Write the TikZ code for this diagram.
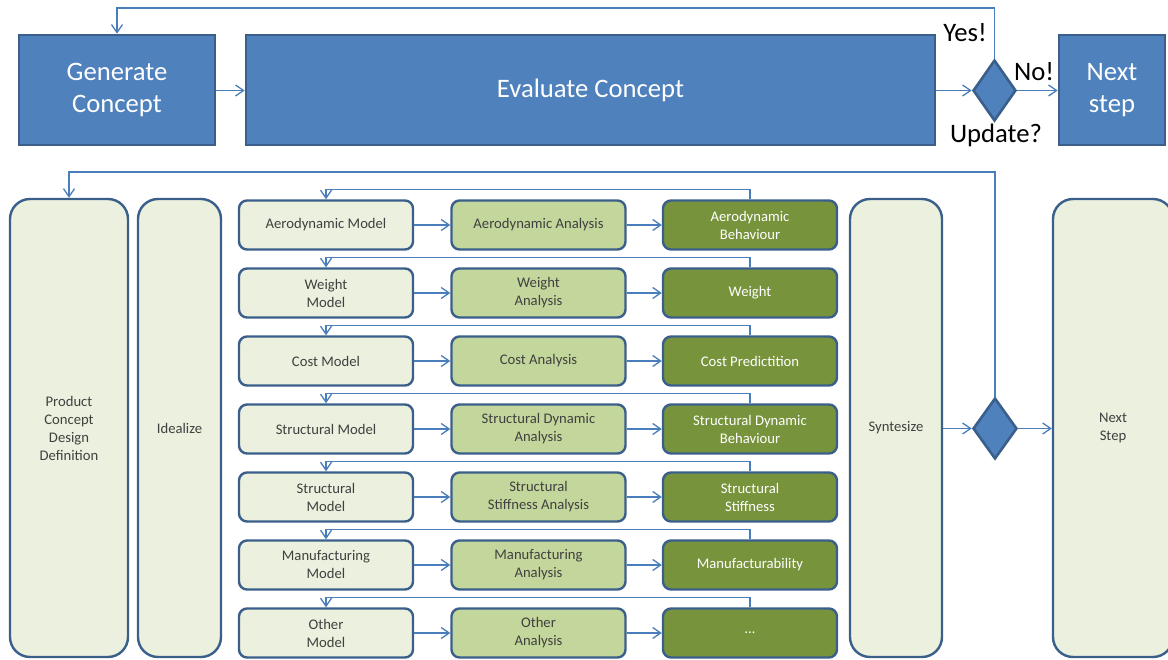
\documentclass[tikz,border=0pt]{standalone}
\usepackage{fontspec}
\setmainfont{Carlito}
\usetikzlibrary{arrows.meta,shapes.geometric}

\definecolor{edgeblue}{HTML}{3A5F8B}
\definecolor{fillblue}{HTML}{4F81BD}
\definecolor{linkblue}{HTML}{4A7EBB}
\definecolor{paleg}{HTML}{EBF1DE}
\definecolor{midg}{HTML}{C3D69B}
\definecolor{darkg}{HTML}{77933C}
\definecolor{txtgray}{HTML}{404040}

\tikzset{
  bigblue/.style={draw=edgeblue, line width=2.6pt, fill=fillblue, text=white,
    align=center, inner sep=0pt, font=\fontsize{26.67}{32.5}\selectfont},
  decide/.style={diamond, draw=edgeblue, line width=2.6pt, fill=fillblue, inner sep=0pt},
  lane/.style={draw=edgeblue, line width=2.4pt, rounded corners=20pt, fill=paleg,
    text=txtgray, align=center, inner sep=0pt, minimum height=458pt,
    font=\fontsize{14.67}{18}\selectfont},
  cell/.style={draw=edgeblue, line width=2.4pt, rounded corners=8pt, align=center,
    inner sep=0pt, minimum width=174pt, minimum height=49pt,
    font=\fontsize{14.67}{18}\selectfont},
  modelbox/.style={cell, fill=paleg, text=txtgray},
  analysisbox/.style={cell, fill=midg, text=txtgray},
  resultbox/.style={cell, fill=darkg, text=white},
  arr/.style={draw=linkblue, line width=1.3pt, -{Straight Barb[length=8pt,width=11pt]}},
  tag/.style={text=black, inner sep=0pt, font=\fontsize{26.67}{32.5}\selectfont}
}

\begin{document}
\begin{tikzpicture}[x=1pt, y=-1pt]
\useasboundingbox (0,0) rectangle (1168,660);

% ---- concept loop ----
\node[bigblue, minimum width=196pt, minimum height=110pt] (gen) at (117,90) {Generate\\Concept};
\node[bigblue, minimum width=689pt, minimum height=110pt] (eval) at (590.5,90) {Evaluate Concept};
\node[decide, minimum width=43pt, minimum height=61pt] (dec) at (994.5,90.5) {};
\node[bigblue, minimum width=106pt, minimum height=110pt] (next) at (1112,90) {Next\\step};

\node[tag] (yes) at (965,33) {Yes!};
\node[tag] (no) at (1034,72) {No!};
\node[tag] (upd) at (996,135) {Update?};

\coordinate (topline) at (0,8);
\coordinate (midline) at (0,90.5);
\draw[arr] (gen.east |- midline) -- (eval.west |- midline);
\draw[arr] (eval.east |- midline) -- (dec.west);
\draw[arr] (dec.east) -- (next.west |- midline);
\draw[arr] (dec.north) -- (dec.north |- topline) -| (gen.north);

% ---- detailed process ----
\node[lane, minimum width=118pt] (prod) at (69,428) {Product\\Concept\\Design\\Definition};
\node[lane, minimum width=83pt] (ideal) at (179.5,428) {Idealize};
\node[lane, minimum width=92pt] (synt) at (896,428) {Syntesize};
\node[decide, minimum width=44pt, minimum height=61pt] (dec2) at (995,428.5) {};
\node[lane, minimum width=120pt] (nstep) at (1113,428) {Next\\Step};

\foreach \i/\mtxt/\atxt/\rtxt in {
  1/{Aerodynamic Model}/{Aerodynamic Analysis}/{Aerodynamic\\Behaviour},
  2/{Weight\\Model}/{Weight\\Analysis}/{Weight},
  3/{Cost Model}/{Cost Analysis}/{Cost Predictition},
  4/{Structural Model}/{Structural Dynamic\\Analysis}/{Structural Dynamic\\Behaviour},
  5/{Structural\\Model}/{Structural\\Stiffness Analysis}/{Structural\\Stiffness},
  6/{Manufacturing\\Model}/{Manufacturing\\Analysis}/{Manufacturability},
  7/{Other\\Model}/{Other\\Analysis}/{…}} {
  \pgfmathsetmacro{\yy}{225+68*(\i-1)}
  \node[modelbox] (m\i) at (326,\yy) {\mtxt};
  \node[analysisbox] (a\i) at (538.5,\yy) {\atxt};
  \node[resultbox] (r\i) at (750,\yy) {\rtxt};
  \draw[arr] (m\i) -- (a\i);
  \draw[arr] (a\i) -- (r\i);
  \draw[arr] (r\i.north) -- ++(0,-10) -| (m\i.north);
}

\coordinate (fbline) at (0,172);
\draw[arr] (synt.east |- dec2) -- (dec2.west);
\draw[arr] (dec2.east) -- (nstep.west |- dec2);
\draw[arr] (dec2.north) -- (dec2.north |- fbline) -| (prod.north);
\end{tikzpicture}
\end{document}
